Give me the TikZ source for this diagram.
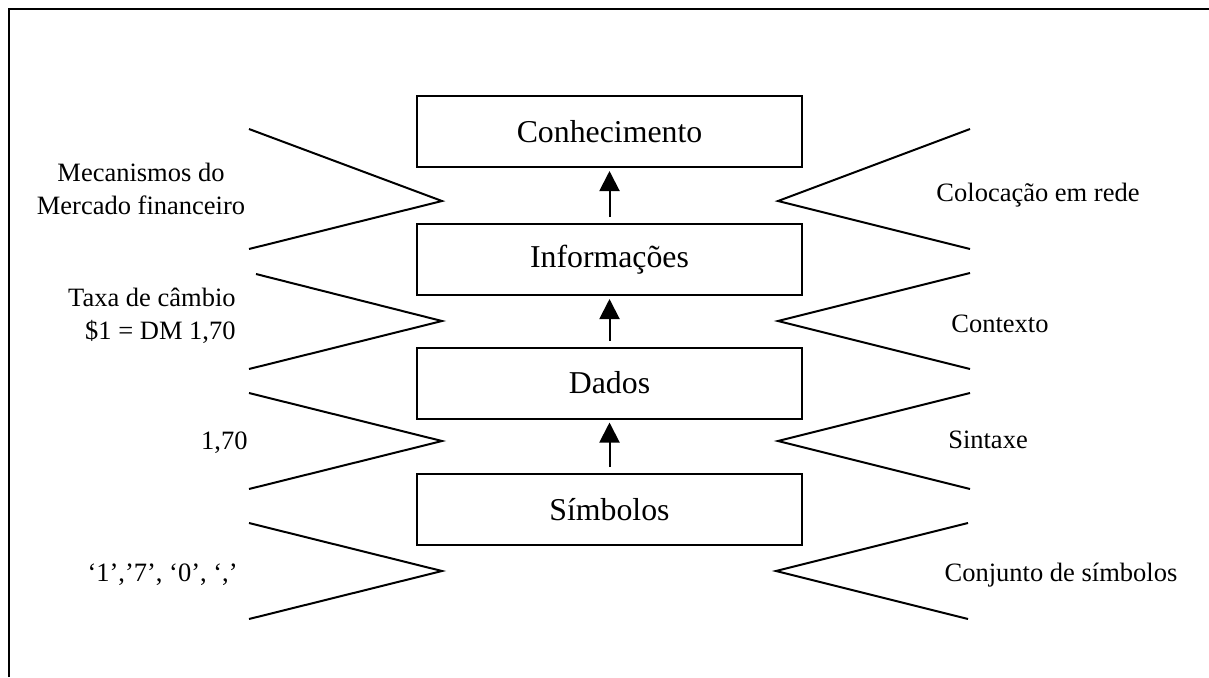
\documentclass[tikz,border=0pt]{standalone}
\usepackage{fontspec}
\setmainfont{Liberation Serif}
\usepackage{tikz}
\usetikzlibrary{arrows.meta}
\usetikzlibrary{calc}

\tikzset{
  level/.style={draw, line width=1pt, minimum width=192.5pt, minimum height=35.5pt,
    inner sep=0pt, font=\fontsize{15.9}{19}\selectfont},
  side/.style={inner sep=0pt, font=\fontsize{13.25}{16.5}\selectfont},
  up/.style={line width=1pt, -{Triangle[width=10pt,length=10pt]},
    shorten <=3pt, shorten >=1.5pt},
  wedge/.style={line width=1pt}
}

\begin{document}
\begin{tikzpicture}[x=0.5pt, y=-0.5pt]
      % Fix the page size
      \useasboundingbox (0,0) rectangle (1209,677);

      % Frame (left and top edge only)
      \draw[line width=1pt] (8.5,677) -- (8.5,8.5) -- (1209,8.5);

      % The four levels
      \node[level] (con) at (609.5,131.5) {Conhecimento};
      \node[level] (inf) at (609.5,259.5) {Informações};
      \node[level] (dad) at (609.5,383) {Dados};
      \node[level] (sim) at (609.5,509.5) {Símbolos};

      % Arrows between levels
      \draw[up] (inf) -- (con);
      \draw[up] (dad) -- (inf);
      \draw[up] (sim) -- (dad);

      % Left wedges
      \draw[wedge] (249,129) -- (442,201) -- (249,249);
      \draw[wedge] (256,274) -- (442,321) -- (249,369);
      \draw[wedge] (249,393) -- (442,441) -- (249,489);
      \draw[wedge] (249,523) -- (442,571) -- (249,619);

      % Right wedges
      \draw[wedge] (970,129) -- (778,201) -- (970,249);
      \draw[wedge] (970,273) -- (778,321) -- (970,369);
      \draw[wedge] (970,393) -- (778,441) -- (970,489);
      \draw[wedge] (968,523) -- (776,571) -- (968,619);

      % Left labels
      \node[side, align=center] (mec) at (141,189) {Mecanismos do\\Mercado financeiro};
      \node[side, align=right, anchor=east] (taxa) at (236,316) {Taxa de câmbio\\\$1 = DM 1,70};
      \node[side, anchor=east] (val) at (248,443) {1,70};
      \node[side, anchor=east] (chars) at (238,575) {‘1’,’7’, ‘0’, ‘,’};

      % Right labels
      \node[side] (rede) at (1038,195) {Colocação em rede};
      \node[side] (ctx) at (1000,324) {Contexto};
      \node[side] (sint) at (988,440) {Sintaxe};
      \node[side] (conj) at (1061,575) {Conjunto de símbolos};
    \end{tikzpicture}
\end{document}
